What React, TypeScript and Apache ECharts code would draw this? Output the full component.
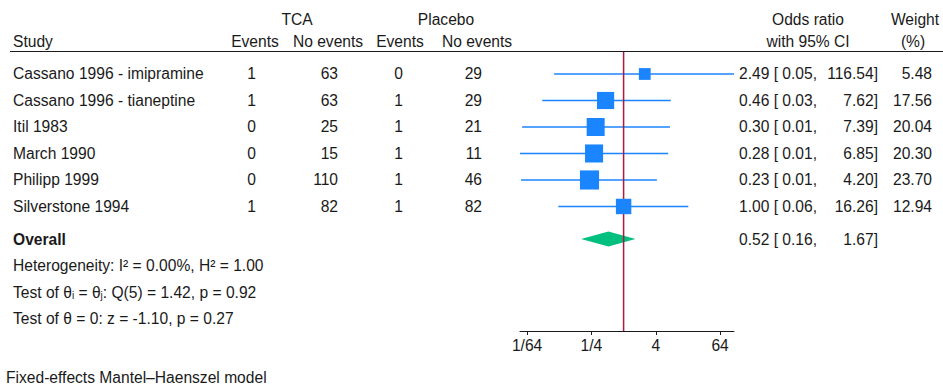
import React, { useEffect, useRef } from "react";
import * as echarts from "echarts";

// ---------- data ----------
const studies = [
  "Cassano 1996 - imipramine",
  "Cassano 1996 - tianeptine",
  "Itil 1983",
  "March 1990",
  "Philipp 1999",
  "Silverstone 1994",
];
const tcaEvents = [1, 1, 0, 0, 0, 1];
const tcaNoEvents = [63, 63, 25, 15, 110, 82];
const placeboEvents = [0, 1, 1, 1, 1, 1];
const placeboNoEvents = [29, 29, 21, 11, 46, 82];
const oddsRatio = [2.49, 0.46, 0.3, 0.28, 0.23, 1.0];
const ciLower = [0.05, 0.03, 0.0126, 0.0115, 0.012, 0.06];
const ciUpper = [116.54, 7.62, 7.39, 6.85, 4.2, 16.26];
const weights = [5.48, 17.56, 20.04, 20.3, 23.7, 12.94];
const overallOR = 0.52;
const overallLower = 0.16;
const overallUpper = 1.67;
const tickValues = [1 / 64, 1 / 4, 4, 64];
const tickLabels = ["1/64", "1/4", "4", "64"];
const heterogeneityText = "Heterogeneity: I\u00B2 = 0.00%, H\u00B2 = 1.00";
const testHomText = "Test of \u03B8{sub|i} = \u03B8{sub|j}: Q(5) = 1.42, p = 0.92";
const testZeroText = "Test of \u03B8 = 0: z = -1.10, p = 0.27";
const footnote = "Fixed-effects Mantel\u2013Haenszel model";

// ---------- style ----------
const BLUE = "#1a85ff";
const RED = "#b2183c";
const GREEN = "#00bf7f";
const INK = "#1a1a1a";
const FONT = "'Liberation Sans', Arial, Helvetica, sans-serif";
const FS = 15.6;
const Y_MIN = -0.83;
const Y_MAX = 9.7;
const OVERALL_ROW = 6.23;
const STAT_ROWS = [7.23, 8.25, 9.23];

const log2 = (v: number) => Math.log2(v);

export default function App() {
  const ref = useRef<HTMLDivElement>(null);

  useEffect(() => {
    document.body.style.margin = "0";
    const chart = echarts.init(ref.current!, null, { renderer: "svg" });

    const xMin = log2(Math.min(...ciLower));
    const xMax = log2(Math.max(...ciUpper));
    const tickLog = tickValues.map(log2);

    const ciData = studies.map((_, i) => [log2(ciLower[i]), log2(ciUpper[i]), i]);
    const sqData = studies.map((_, i) => [log2(oddsRatio[i]), i, weights[i]]);
    const diaData = [[log2(overallLower), log2(overallUpper), log2(overallOR), OVERALL_ROW]];

    chart.setOption({
      animation: false,
      grid: { left: 520, right: 943 - 734, top: 52, bottom: 390 - 331, containLabel: false },
      xAxis: {
        type: "value",
        min: xMin,
        max: xMax,
        splitLine: { show: false },
        axisLine: { show: true, onZero: false, lineStyle: { color: INK, width: 1 } },
        axisTick: { show: true, length: 4, customValues: tickLog, lineStyle: { color: INK, width: 1 } },
        axisLabel: {
          show: true,
          customValues: tickLog,
          color: INK,
          fontSize: FS,
          fontFamily: FONT,
          margin: 6,
          formatter: (v: number) => {
            let best = 0;
            tickLog.forEach((t, k) => {
              if (Math.abs(t - v) < Math.abs(tickLog[best] - v)) best = k;
            });
            return tickLabels[best];
          },
        },
      },
      yAxis: { type: "value", min: Y_MIN, max: Y_MAX, inverse: true, show: false },
      series: [
        {
          type: "custom",
          name: "ci",
          z: 2,
          clip: false,
          data: ciData,
          encode: { x: [0, 1], y: 2 },
          renderItem: (_p: any, api: any) => {
            const a = api.coord([api.value(0), api.value(2)]);
            const b = api.coord([api.value(1), api.value(2)]);
            return {
              type: "line",
              shape: { x1: a[0], y1: a[1], x2: b[0], y2: b[1] },
              style: { stroke: BLUE, lineWidth: 1.5 },
            };
          },
        },
        {
          type: "custom",
          name: "overall",
          z: 3,
          clip: false,
          data: diaData,
          encode: { x: [0, 1, 2], y: 3 },
          renderItem: (_p: any, api: any) => {
            const y = api.value(3);
            const l = api.coord([api.value(0), y]);
            const r = api.coord([api.value(1), y]);
            const m = api.coord([api.value(2), y]);
            const h = 7.5;
            return {
              type: "polygon",
              shape: { points: [[l[0], l[1]], [m[0], m[1] - h], [r[0], r[1]], [m[0], m[1] + h]] },
              style: { fill: GREEN },
            };
          },
        },
        {
          type: "line",
          name: "ref",
          z: 4,
          data: [[0, Y_MIN], [0, Y_MAX]],
          showSymbol: false,
          symbol: "none",
          lineStyle: { color: RED, width: 1.5 },
          silent: true,
        },
        {
          type: "custom",
          name: "squares",
          z: 5,
          clip: false,
          data: sqData,
          encode: { x: 0, y: 1 },
          renderItem: (_p: any, api: any) => {
            const c = api.coord([api.value(0), api.value(1)]);
            const s = 5 + 2.9 * Math.sqrt(api.value(2));
            return {
              type: "rect",
              shape: { x: c[0] - s / 2, y: c[1] - s / 2, width: s, height: s },
              style: { fill: BLUE },
            };
          },
        },
      ],
    });

    const py = (v: number) => (chart.convertToPixel({ gridIndex: 0 }, [0, v]) as number[])[1];

    const txt = (
      text: string,
      x: number,
      y: number,
      align: "left" | "center" | "right" = "left",
      extra: any = {}
    ) => ({
      type: "text",
      x,
      y,
      silent: true,
      style: {
        text,
        fill: INK,
        fontSize: FS,
        fontFamily: FONT,
        align,
        verticalAlign: "middle",
        textAlign: align,
        textVerticalAlign: "middle",
        ...extra,
      },
    });

    const g: any[] = [];
    // headers
    g.push(txt("TCA", 297, 19, "center"));
    g.push(txt("Placebo", 446, 19, "center"));
    g.push(txt("Odds ratio", 808, 19, "center"));
    g.push(txt("Weight", 915, 19, "center"));
    g.push(txt("Study", 13, 41, "left"));
    g.push(txt("Events", 255, 41, "center"));
    g.push(txt("No events", 328, 41, "center"));
    g.push(txt("Events", 400, 41, "center"));
    g.push(txt("No events", 477, 41, "center"));
    g.push(txt("with 95% CI", 808, 41, "center"));
    g.push(txt("(%)", 913, 41, "center"));
    g.push({
      type: "line",
      silent: true,
      shape: { x1: 10, y1: 51.5, x2: 943, y2: 51.5 },
      style: { stroke: INK, lineWidth: 1 },
    });

    studies.forEach((name, i) => {
      const y = py(i);
      g.push(txt(name, 13, y, "left"));
      g.push(txt(String(tcaEvents[i]), 256, y, "right"));
      g.push(txt(String(tcaNoEvents[i]), 338, y, "right"));
      g.push(txt(String(placeboEvents[i]), 403, y, "right"));
      g.push(txt(String(placeboNoEvents[i]), 482, y, "right"));
      g.push(txt(`${oddsRatio[i].toFixed(2)} [ ${ciLower[i].toFixed(2)},`, 739, y, "left"));
      g.push(txt(`${ciUpper[i].toFixed(2)}]`, 878, y, "right"));
      g.push(txt(weights[i].toFixed(2), 932, y, "right"));
    });

    const yo = py(OVERALL_ROW);
    g.push(txt("Overall", 13, yo, "left", { fontWeight: "bold" }));
    g.push(txt(`${overallOR.toFixed(2)} [ ${overallLower.toFixed(2)},`, 739, yo, "left"));
    g.push(txt(`${overallUpper.toFixed(2)}]`, 878, yo, "right"));

    g.push(txt(heterogeneityText, 13, py(STAT_ROWS[0]), "left"));
    g.push(
      txt(testHomText, 13, py(STAT_ROWS[1]), "left", {
        rich: {
          sub: { fontSize: 10, fontFamily: FONT, fill: INK, verticalAlign: "bottom", padding: [5, 0, 0, 0] },
        },
      })
    );
    g.push(txt(testZeroText, 13, py(STAT_ROWS[2]), "left"));
    g.push(txt(footnote, 6, 377, "left"));

    chart.setOption({ graphic: g });

    return () => chart.dispose();
  }, []);

  return <div ref={ref} style={{ width: 943, height: 390 }} />;
}
